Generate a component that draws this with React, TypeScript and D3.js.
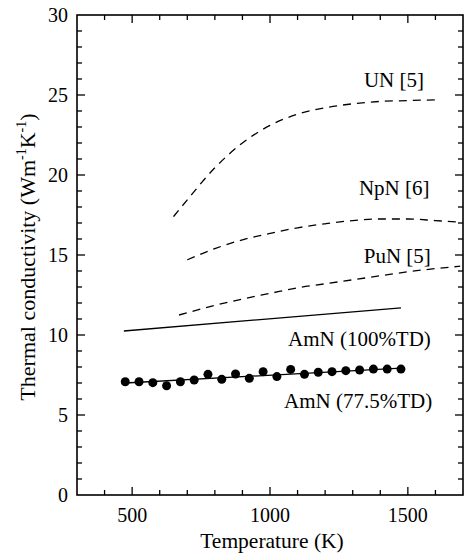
import { useEffect, useRef } from "react";
import * as d3 from "d3";

// AmN 77.5%TD measured points
const amnTemps = [475, 525, 575, 625, 675, 725, 775, 825, 875, 925, 975, 1025, 1075, 1125, 1175, 1225, 1275, 1325, 1375, 1425, 1475];
const amnValues = [7.08, 7.08, 7.02, 6.83, 7.08, 7.19, 7.54, 7.23, 7.56, 7.29, 7.71, 7.4, 7.85, 7.54, 7.67, 7.71, 7.77, 7.81, 7.87, 7.87, 7.87];
const amnFitTemps = [475, 1475];
const amnFitValues = [7.0, 7.93];

const amn100Temps = [470, 1475];
const amn100Values = [10.25, 11.7];

const punTemps = [670, 800, 900, 1000, 1100, 1200, 1300, 1400, 1500, 1600, 1690];
const punValues = [11.25, 11.85, 12.25, 12.6, 12.95, 13.2, 13.45, 13.7, 13.95, 14.15, 14.3];

const npnTemps = [700, 800, 900, 1000, 1100, 1200, 1300, 1400, 1500, 1600, 1690];
const npnValues = [14.7, 15.4, 15.95, 16.35, 16.7, 16.95, 17.15, 17.25, 17.25, 17.15, 17.05];

const unTemps = [650, 700, 800, 900, 1000, 1100, 1200, 1300, 1400, 1500, 1600];
const unValues = [17.4, 18.45, 20.45, 22.0, 23.1, 23.8, 24.2, 24.45, 24.6, 24.65, 24.7];

const xTicks = [500, 1000, 1500];
const yTicks = [0, 5, 10, 15, 20, 25, 30];

const curveLabels = [
  { text: "UN [5]", t: 1660, k: 25.5 },
  { text: "NpN [6]", t: 1680, k: 18.75 },
  { text: "PuN [5]", t: 1685, k: 14.5 },
  { text: "AmN (100%TD)", t: 1685, k: 9.3 },
  { text: "AmN (77.5%TD)", t: 1690, k: 5.45 },
];

const App = () => {
  const svgRef = useRef<SVGSVGElement>(null);
  const width = 465;
  const height = 556;

  useEffect(() => {
    const svg = d3.select(svgRef.current);
    svg.selectAll("*").remove();

    const left = 77, right = 463, top = 15, bottom = 495;
    const font = "'Liberation Serif', 'Times New Roman', serif";

    const x = d3.scaleLinear().domain([300, 1700]).range([left, right]);
    const y = d3.scaleLinear().domain([0, 30]).range([bottom, top]);

    const g = svg.append("g");

    const zip = (ts: number[], ks: number[]) => ts.map((t, i) => ({ t, k: ks[i] }));
    const line = d3.line<{ t: number; k: number }>()
      .x(d => x(d.t))
      .y(d => y(d.k))
      .curve(d3.curveMonotoneX);

    // minor + major ticks on all four sides, pointing inward
    const xMinor = d3.range(400, 1700, 100);
    const yMinor = d3.range(1, 30, 1);
    xMinor.forEach(t => {
      const len = t % 500 === 0 ? 8 : 5;
      g.append("line").attr("x1", x(t)).attr("x2", x(t)).attr("y1", bottom).attr("y2", bottom - len)
        .attr("stroke", "#000").attr("stroke-width", 1.3);
      g.append("line").attr("x1", x(t)).attr("x2", x(t)).attr("y1", top).attr("y2", top + len)
        .attr("stroke", "#000").attr("stroke-width", 1.3);
    });
    yMinor.forEach(k => {
      const len = k % 5 === 0 ? 8 : 5;
      g.append("line").attr("x1", left).attr("x2", left + len).attr("y1", y(k)).attr("y2", y(k))
        .attr("stroke", "#000").attr("stroke-width", 1.3);
      g.append("line").attr("x1", right).attr("x2", right - len).attr("y1", y(k)).attr("y2", y(k))
        .attr("stroke", "#000").attr("stroke-width", 1.3);
    });

    g.append("rect")
      .attr("x", left).attr("y", top)
      .attr("width", right - left).attr("height", bottom - top)
      .attr("fill", "none").attr("stroke", "#000").attr("stroke-width", 1.6);

    // tick labels
    g.selectAll(".xt").data(xTicks).enter().append("text")
      .attr("x", d => x(d)).attr("y", bottom + 27)
      .attr("text-anchor", "middle")
      .attr("font-family", font).attr("font-size", 20)
      .text(d => d);

    g.selectAll(".yt").data(yTicks).enter().append("text")
      .attr("x", left - 9).attr("y", d => y(d) + 7)
      .attr("text-anchor", "end")
      .attr("font-family", font).attr("font-size", 20)
      .text(d => d);

    // axis titles
    g.append("text")
      .attr("x", (left + right) / 2 + 2).attr("y", bottom + 53)
      .attr("text-anchor", "middle")
      .attr("font-family", font).attr("font-size", 21.5)
      .text("Temperature (K)");

    const yt = g.append("text")
      .attr("transform", `translate(35, 257) rotate(-90)`)
      .attr("text-anchor", "middle")
      .attr("font-family", font).attr("font-size", 22);
    yt.append("tspan").text("Thermal conductivity (Wm");
    yt.append("tspan").attr("dy", -9).attr("font-size", 14).text("-1");
    yt.append("tspan").attr("dy", 9).text("K");
    yt.append("tspan").attr("dy", -9).attr("font-size", 14).text("-1");
    yt.append("tspan").attr("dy", 9).text(")");

    // dashed literature curves
    [[unTemps, unValues], [npnTemps, npnValues], [punTemps, punValues]].forEach(([ts, ks]) => {
      g.append("path")
        .datum(zip(ts, ks))
        .attr("fill", "none").attr("stroke", "#000").attr("stroke-width", 1.3)
        .attr("stroke-dasharray", "8,6")
        .attr("d", line);
    });

    g.append("path")
      .datum(zip(amn100Temps, amn100Values))
      .attr("fill", "none").attr("stroke", "#000").attr("stroke-width", 1.3)
      .attr("d", line);

    g.append("path")
      .datum(zip(amnFitTemps, amnFitValues))
      .attr("fill", "none").attr("stroke", "#000").attr("stroke-width", 1.3)
      .attr("d", line);

    g.selectAll(".dot").data(zip(amnTemps, amnValues)).enter().append("circle")
      .attr("cx", d => x(d.t)).attr("cy", d => y(d.k))
      .attr("r", 4.5).attr("fill", "#000");

    g.selectAll(".lbl").data(curveLabels).enter().append("text")
      .attr("x", d => x(d.t) - 28).attr("y", d => y(d.k))
      .attr("text-anchor", "end")
      .attr("font-family", font).attr("font-size", 21)
      .text(d => d.text);
  }, []);

  return (
    <svg
      ref={svgRef}
      width={width}
      height={height}
      style={{ position: "absolute", left: 0, top: 0, background: "#fff" }}
    />
  );
};

export default App;
